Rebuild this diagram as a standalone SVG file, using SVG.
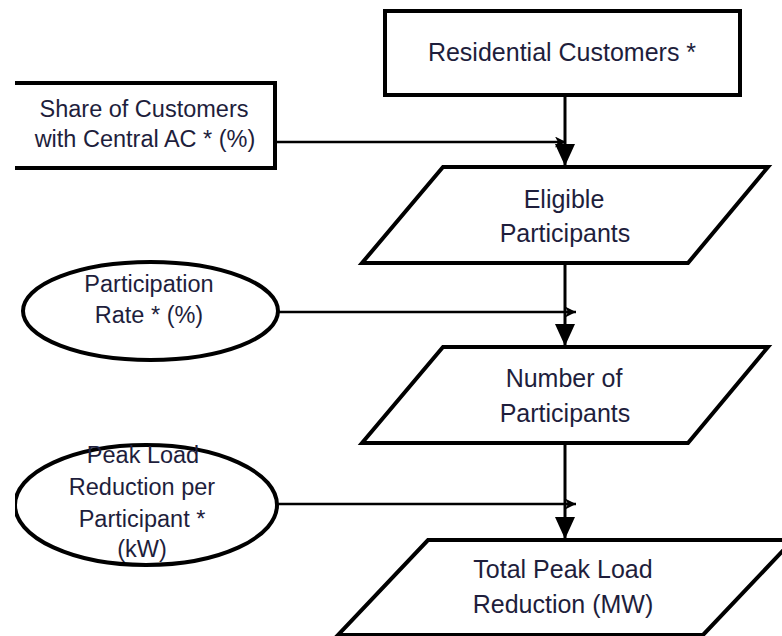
<svg xmlns="http://www.w3.org/2000/svg" width="782" height="636" viewBox="0 0 782 636">
<style>
.shape{fill:#ffffff;stroke:#000000;stroke-width:4;stroke-linejoin:miter}
.t{font-family:"Liberation Sans",Arial,sans-serif;font-size:25px;fill:#1e1e3c;text-anchor:middle}
.ts{font-size:23.5px}
.v{stroke:#000;stroke-width:3;fill:none}
.h{stroke:#000;stroke-width:2.5;fill:none}
</style>
<defs>
<marker id="big" markerUnits="userSpaceOnUse" markerWidth="22" markerHeight="20" refX="22" refY="10" orient="auto" viewBox="0 0 22 20">
<path d="M0,0 L22,10 L0,20 z" fill="#000"/>
</marker>
<marker id="small" markerUnits="userSpaceOnUse" markerWidth="11" markerHeight="11" refX="11" refY="5.5" orient="auto" viewBox="0 0 11 11">
<path d="M0,0 L11,5.5 L0,11 L3,5.5 z" fill="#000"/>
</marker>
<clipPath id="clipL"><rect x="15" y="0" width="767" height="636"/></clipPath>
</defs>
<rect width="782" height="636" fill="#ffffff"/>

<g id="connectors">
<line class="h" x1="275" y1="142" x2="566" y2="142" marker-end="url(#small)"/>
<line class="v" x1="565" y1="95" x2="565" y2="166" marker-end="url(#big)"/>
<line class="h" x1="278" y1="312" x2="576" y2="312" marker-end="url(#small)"/>
<line class="v" x1="565" y1="263" x2="565" y2="346" marker-end="url(#big)"/>
<line class="h" x1="277" y1="504" x2="576" y2="504" marker-end="url(#small)"/>
<line class="v" x1="565" y1="443" x2="565" y2="539" marker-end="url(#big)"/>
</g>

<g id="residential">
<rect class="shape" x="385" y="11" width="355" height="84"/>
<text class="t" x="562" y="61">Residential Customers *</text>
</g>

<g id="share">
<path class="shape" d="M15,83 L275,83 L275,168 L15,168"/>
<text class="t ts" x="144" y="117">Share of Customers</text>
<text class="t ts" x="145" y="147">with Central AC * (%)</text>
</g>

<g id="eligible">
<polygon class="shape" points="443,167 768,167 688,263 362,263"/>
<text class="t" x="564" y="208">Eligible</text>
<text class="t" x="565" y="242">Participants</text>
</g>

<g id="participation">
<ellipse class="shape" cx="150.5" cy="311" rx="127.5" ry="49"/>
<text class="t ts" x="149" y="292">Participation</text>
<text class="t ts" x="149" y="323">Rate * (%)</text>
</g>

<g id="number">
<polygon class="shape" points="443,347 768,347 688,443 362,443"/>
<text class="t" x="564" y="387">Number of</text>
<text class="t" x="565" y="422">Participants</text>
</g>

<g id="peak">
<ellipse class="shape" cx="146" cy="505" rx="131" ry="60" clip-path="url(#clipL)"/>
<text class="t ts" x="143" y="463">Peak Load</text>
<text class="t ts" x="142" y="495">Reduction per</text>
<text class="t ts" x="142" y="527">Participant *</text>
<text class="t ts" x="142" y="557">(kW)</text>
</g>

<g id="total">
<polygon class="shape" points="428,540 793,540 703,635 338,635"/>
<text class="t" x="563" y="578">Total Peak Load</text>
<text class="t" x="563" y="613">Reduction (MW)</text>
</g>
</svg>
